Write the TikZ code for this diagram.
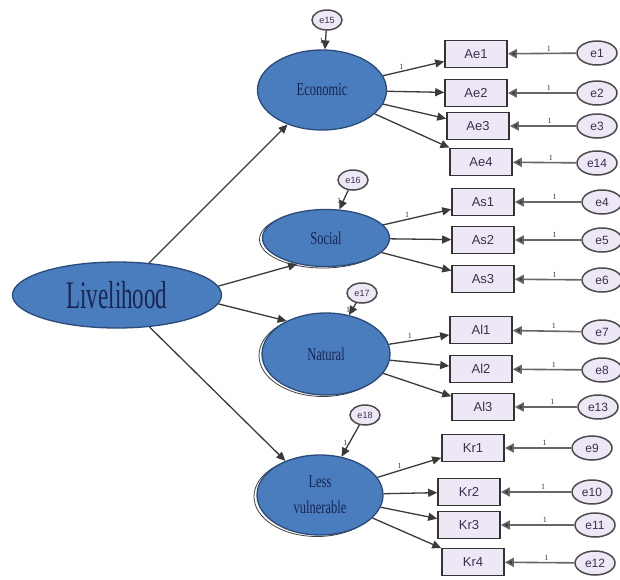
\documentclass[tikz,border=0pt]{standalone}
\usepackage{fontspec}
\setmainfont{Liberation Serif}
\setsansfont{Liberation Sans}
\usepackage{graphicx}
\usetikzlibrary{arrows.meta,positioning,shapes.geometric,calc}
\definecolor{LatBlue}{HTML}{4A7DBE}
\definecolor{LatEdge}{HTML}{2B4A7A}
\definecolor{LatText}{HTML}{1B2550}
\definecolor{ObsFill}{HTML}{EEE8F6}
\definecolor{ObsText}{HTML}{3A3050}
\definecolor{Wire}{HTML}{3A3A3A}
\newcommand{\tallt}[1]{\scalebox{1}[1.45]{#1}}

\tikzset{
  latent/.style={ellipse,draw=LatEdge,line width=1.3pt,fill=LatBlue,text=LatText,inner sep=0pt,
    font=\fontsize{12.5}{26}\selectfont,align=center},
  latsh/.style={latent,preaction={draw=black!75,thick,transform canvas={xshift=-3pt,yshift=-1.5pt}}},
  obs/.style={rectangle,draw=black!80,line width=1.6pt,fill=ObsFill,text=ObsText,
    minimum width=62pt,minimum height=27pt,font=\sffamily\fontsize{13}{13}\selectfont},
  err/.style={ellipse,draw=black!70,line width=1.5pt,fill=ObsFill,text=ObsText,
    minimum width=40pt,minimum height=24pt,inner sep=0pt,font=\sffamily\fontsize{12}{12}\selectfont},
  errs/.style={err,minimum width=30pt,minimum height=20pt,font=\sffamily\fontsize{9}{9}\selectfont},
  load/.style={-{Triangle[length=9pt,width=8pt]},Wire,line width=1.3pt},
  resid/.style={load,draw=black!60,line width=1.6pt,-{Triangle[length=9pt,width=9pt,fill=Wire]}},
  one/.style={font=\fontsize{8}{8}\selectfont,inner sep=1.5pt},
}

\begin{document}
\begin{tikzpicture}[x=1pt,y=-1pt]
  \useasboundingbox[fill=white] (0,0) rectangle (620,579);

  % latent variables
  \node[latent,minimum width=209pt,minimum height=66pt] (liv) at (117,295)
    {\fontsize{23}{23}\selectfont\scalebox{1}[1.7]{Livelihood}};
  \node[latent,minimum width=129pt,minimum height=80pt] (eco) at (322,90) {\tallt{Economic}};
  \node[latsh,minimum width=127pt,minimum height=57pt] (soc) at (326,238) {\tallt{Social}};
  \node[latsh,minimum width=128pt,minimum height=82pt] (nat) at (326,354) {\tallt{Natural}};
  \node[latsh,minimum width=126pt,minimum height=80pt] (less) at (320,495) {\tallt{Less}\\\tallt{vulnerable}};

  % disturbances
  \node[errs] (e15) at (327,20) {e15};
  \node[errs] (e16) at (353,180) {e16};
  \node[errs] (e17) at (362,293) {e17};
  \node[errs] (e18) at (365,415) {e18};
  \foreach \d/\l in {e15/eco,e16/soc,e17/nat,e18/less} {
    \draw[load] (\d) -- node[one,pos=0.55,left]{1} (\l);
  }

  % indicators with their errors
  \foreach \b/\bx/\by/\e/\ex/\ey in {Ae1/476/54/e1/597/53,Ae2/476/93/e2/597/93,
      Ae3/478/126/e3/597/126,Ae4/481/162/e14/597/163,
      As1/483/202/e4/602/202,As2/483/240/e5/602/240,As3/483/279/e6/602/280,
      Al1/481/330/e7/602/332,Al2/481/369/e8/602/370,Al3/483/407/e13/598/407,
      Kr1/473/448/e9/592/448,Kr2/469/492/e10/592/492,Kr3/469/525/e11/595/525,
      Kr4/473/562/e12/595/563} {
    \node[obs] (\b) at (\bx,\by) {\b};
    \node[err] (\e) at (\ex,\ey) {\e};
    \draw[resid] (\e) -- node[one,pos=0.4,above]{1} (\b);
  }

  % loadings
  \draw[load] (eco) -- node[one,pos=0.3,above]{1} (Ae1);
  \foreach \b in {Ae2,Ae3,Ae4} \draw[load] (eco) -- (\b);
  \draw[load] (soc) -- node[one,pos=0.35,above]{1} (As1);
  \foreach \b in {As2,As3} \draw[load] (soc) -- (\b);
  \draw[load] (nat) -- node[one,pos=0.35,above]{1} (Al1);
  \foreach \b in {Al2,Al3} \draw[load] (nat) -- (\b);
  \draw[load] (less) -- node[one,pos=0.35,above]{1} (Kr1);
  \foreach \b in {Kr2,Kr3,Kr4} \draw[load] (less) -- (\b);

  % structural paths
  \draw[load] (liv) -- (eco);
  \draw[load] (liv.5) -- (soc.222);
  \draw[load] (liv.-5) -- (nat.140);
  \draw[load] (liv) -- (less);
\end{tikzpicture}
\end{document}
